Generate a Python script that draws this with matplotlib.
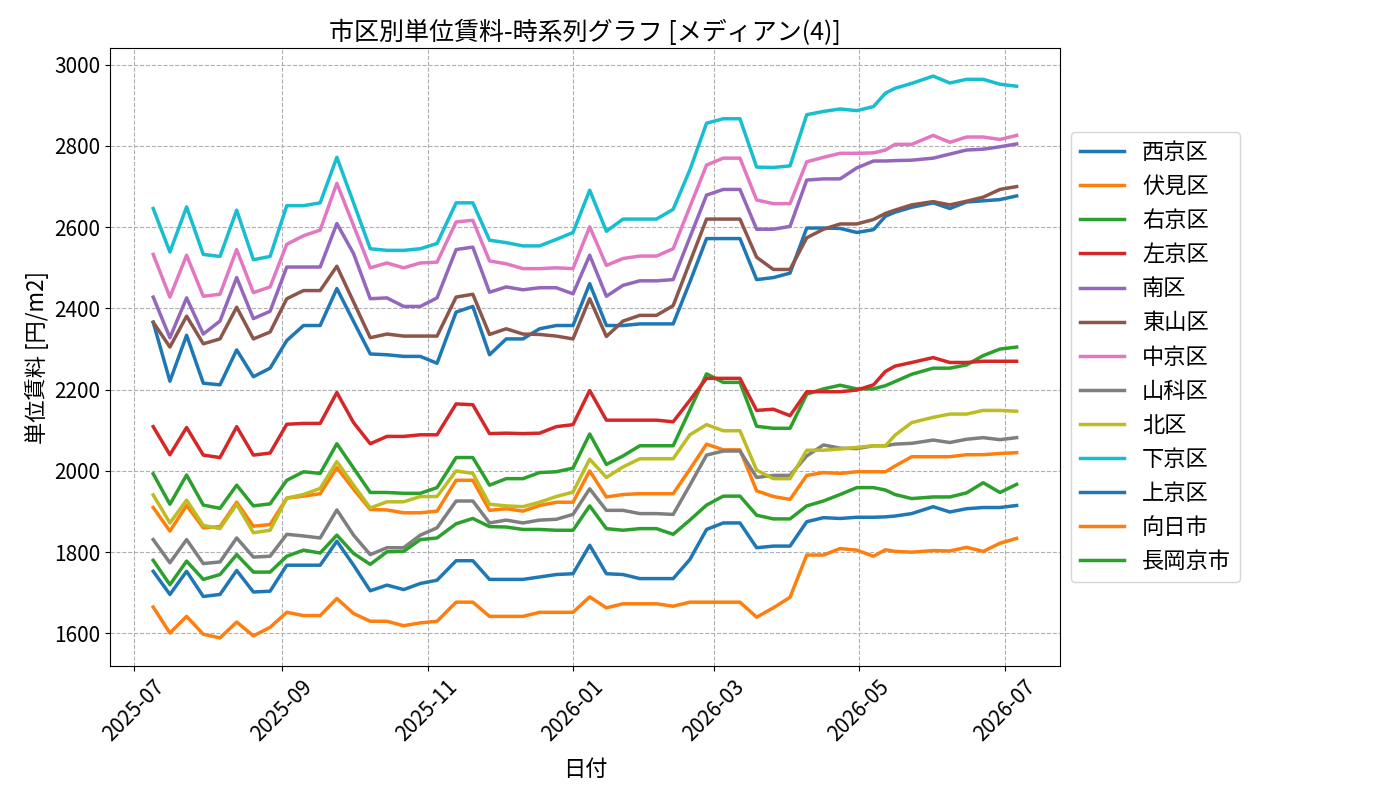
import matplotlib
matplotlib.use("Agg")
import matplotlib.pyplot as plt
import matplotlib.dates as mdates
import pandas as pd

plt.rcParams['font.family'] = ['Noto Sans CJK JP', 'DejaVu Sans']

dates = pd.to_datetime([
    "2025-07-09", "2025-07-16", "2025-07-23", "2025-07-30", "2025-08-06", "2025-08-13",
    "2025-08-20", "2025-08-27", "2025-09-03", "2025-09-10", "2025-09-17", "2025-09-24",
    "2025-10-01", "2025-10-08", "2025-10-15", "2025-10-22", "2025-10-29", "2025-11-05",
    "2025-11-13", "2025-11-20", "2025-11-27", "2025-12-04", "2025-12-11", "2025-12-18",
    "2025-12-25", "2026-01-01", "2026-01-08", "2026-01-15", "2026-01-22", "2026-01-29",
    "2026-02-05", "2026-02-12", "2026-02-19", "2026-02-26", "2026-03-05", "2026-03-12",
    "2026-03-19", "2026-03-26", "2026-04-02", "2026-04-09", "2026-04-16", "2026-04-23",
    "2026-04-30", "2026-05-07", "2026-05-12", "2026-05-16", "2026-05-23", "2026-06-01",
    "2026-06-08", "2026-06-15", "2026-06-22", "2026-06-29", "2026-07-06",
])

nishikyo = [2366, 2221, 2334, 2216, 2212, 2298, 2232, 2253, 2321, 2358, 2358, 2449, 2368, 2288, 2286, 2282, 2282, 2265,
            2391, 2405, 2286, 2325, 2325, 2350, 2358, 2358, 2461, 2358, 2358, 2362, 2362, 2362, 2465, 2572, 2572, 2572,
            2471, 2476, 2487, 2598, 2598, 2597, 2587, 2594, 2627, 2637, 2649, 2660, 2646, 2662, 2665, 2668, 2677]
fushimi = [1910, 1852, 1915, 1860, 1863, 1923, 1864, 1868, 1933, 1938, 1944, 2008, 1955, 1905, 1904, 1897, 1897, 1901,
           1977, 1977, 1903, 1907, 1901, 1915, 1923, 1923, 2000, 1936, 1942, 1944, 1944, 1944, 2004, 2066, 2052, 2052,
           1951, 1937, 1930, 1989, 1996, 1994, 1998, 1998, 1998, 2012, 2035, 2035, 2035, 2040, 2040, 2043, 2045]
ukyo = [1993, 1918, 1990, 1916, 1908, 1965, 1914, 1919, 1977, 1998, 1994, 2067, 2007, 1947, 1947, 1945, 1945, 1959,
        2033, 2033, 1965, 1981, 1981, 1996, 1998, 2007, 2091, 2016, 2037, 2062, 2062, 2062, 2150, 2239, 2218, 2218,
        2110, 2105, 2105, 2189, 2202, 2211, 2202, 2202, 2210, 2220, 2238, 2253, 2253, 2261, 2284, 2300, 2305]
sakyo = [2109, 2040, 2107, 2039, 2033, 2109, 2039, 2044, 2115, 2117, 2117, 2193, 2119, 2067, 2085, 2085, 2089, 2089,
         2165, 2163, 2092, 2093, 2092, 2093, 2109, 2114, 2198, 2125, 2125, 2125, 2125, 2121, 2174, 2228, 2228, 2228,
         2149, 2152, 2136, 2195, 2195, 2195, 2199, 2212, 2245, 2258, 2267, 2279, 2267, 2267, 2270, 2270, 2270]
minami = [2428, 2328, 2426, 2337, 2369, 2476, 2375, 2393, 2502, 2502, 2502, 2609, 2535, 2424, 2426, 2405, 2405, 2426,
          2545, 2551, 2440, 2453, 2446, 2451, 2451, 2436, 2531, 2430, 2457, 2468, 2468, 2471, 2575, 2679, 2693, 2693,
          2595, 2595, 2602, 2716, 2719, 2719, 2746, 2763, 2763, 2764, 2765, 2770, 2780, 2790, 2792, 2798, 2805]
higashiyama = [2366, 2305, 2381, 2313, 2325, 2403, 2325, 2342, 2424, 2444, 2444, 2504, 2416, 2328, 2337, 2332, 2332, 2332,
               2428, 2435, 2336, 2350, 2337, 2336, 2332, 2325, 2424, 2331, 2369, 2383, 2383, 2407, 2514, 2620, 2620, 2620,
               2526, 2496, 2496, 2574, 2595, 2608, 2608, 2619, 2634, 2642, 2655, 2663, 2655, 2664, 2674, 2693, 2700]
nakagyo = [2533, 2428, 2531, 2430, 2435, 2545, 2439, 2453, 2558, 2579, 2593, 2708, 2604, 2500, 2512, 2500, 2512, 2514,
           2613, 2617, 2517, 2510, 2498, 2498, 2500, 2498, 2601, 2506, 2523, 2529, 2529, 2547, 2650, 2753, 2770, 2770,
           2667, 2658, 2658, 2761, 2772, 2782, 2782, 2783, 2790, 2804, 2804, 2826, 2809, 2822, 2822, 2816, 2826]
yamashina = [1831, 1774, 1831, 1772, 1776, 1835, 1788, 1790, 1844, 1840, 1835, 1904, 1842, 1794, 1811, 1811, 1842, 1860,
             1926, 1926, 1872, 1879, 1872, 1879, 1881, 1893, 1956, 1903, 1903, 1895, 1895, 1893, 1965, 2039, 2049, 2049,
             1984, 1989, 1989, 2037, 2064, 2056, 2055, 2062, 2062, 2066, 2068, 2076, 2070, 2078, 2082, 2077, 2082]
kita = [1941, 1872, 1928, 1866, 1858, 1918, 1848, 1854, 1933, 1942, 1957, 2023, 1965, 1909, 1924, 1924, 1937, 1937,
        2000, 1994, 1918, 1914, 1912, 1923, 1937, 1948, 2029, 1984, 2010, 2030, 2030, 2030, 2089, 2114, 2099, 2099,
        2002, 1981, 1981, 2051, 2051, 2054, 2058, 2062, 2062, 2088, 2119, 2132, 2140, 2140, 2149, 2149, 2147]
shimogyo = [2646, 2539, 2650, 2533, 2528, 2642, 2520, 2528, 2653, 2653, 2660, 2772, 2660, 2547, 2543, 2543, 2547, 2560,
            2660, 2660, 2568, 2562, 2554, 2554, 2570, 2587, 2691, 2590, 2620, 2620, 2620, 2644, 2741, 2856, 2867, 2867,
            2748, 2747, 2751, 2877, 2885, 2891, 2887, 2897, 2930, 2942, 2954, 2972, 2955, 2964, 2964, 2952, 2947]
kamigyo = [1753, 1696, 1753, 1691, 1696, 1755, 1702, 1704, 1768, 1768, 1768, 1827, 1768, 1705, 1719, 1708, 1723, 1731,
           1779, 1779, 1733, 1733, 1733, 1739, 1745, 1747, 1817, 1747, 1745, 1735, 1735, 1735, 1782, 1856, 1872, 1872,
           1811, 1815, 1815, 1875, 1885, 1883, 1886, 1886, 1887, 1889, 1895, 1912, 1899, 1907, 1910, 1910, 1915]
muko = [1665, 1601, 1642, 1598, 1589, 1628, 1594, 1615, 1652, 1644, 1644, 1686, 1649, 1630, 1630, 1619, 1626, 1630,
        1677, 1677, 1642, 1642, 1642, 1652, 1652, 1652, 1690, 1663, 1673, 1673, 1673, 1667, 1677, 1677, 1677, 1677,
        1640, 1663, 1689, 1793, 1793, 1809, 1805, 1790, 1806, 1802, 1800, 1804, 1803, 1812, 1802, 1822, 1834]
nagaokakyo = [1780, 1720, 1778, 1733, 1745, 1794, 1751, 1751, 1790, 1805, 1798, 1842, 1797, 1770, 1801, 1802, 1831, 1835,
              1870, 1883, 1863, 1862, 1856, 1856, 1854, 1854, 1914, 1858, 1854, 1858, 1858, 1844, 1879, 1916, 1938, 1938,
              1891, 1882, 1882, 1914, 1926, 1942, 1959, 1959, 1953, 1942, 1932, 1936, 1936, 1946, 1971, 1947, 1967]

names = ["西京区", "伏見区", "右京区", "左京区", "南区", "東山区", "中京区", "山科区", "北区", "下京区",
         "上京区", "向日市", "長岡京市"]
series = [nishikyo, fushimi, ukyo, sakyo, minami, higashiyama, nakagyo, yamashina, kita, shimogyo,
          kamigyo, muko, nagaokakyo]

fig, ax = plt.subplots(figsize=(14, 8), dpi=100)
fig.subplots_adjust(left=0.0786, right=0.757, top=0.94, bottom=0.1675)

colors = plt.rcParams['axes.prop_cycle'].by_key()['color']
for i, (name, vals) in enumerate(zip(names, series)):
    ax.plot(dates, vals, label=name, linewidth=2.5, color=colors[i % len(colors)])

ax.set_title("市区別単位賃料-時系列グラフ [メディアン(4)]", fontsize=18)
ax.set_xlabel("日付", fontsize=16, labelpad=9)
ax.set_ylabel("単位賃料 [円/m2]", fontsize=16)
ax.tick_params(axis='both', labelsize=15)
ax.xaxis.set_major_locator(mdates.MonthLocator(bymonth=[1, 3, 5, 7, 9, 11]))
ax.xaxis.set_major_formatter(mdates.DateFormatter('%Y-%m'))
plt.setp(ax.get_xticklabels(), rotation=45)
ax.grid(True, linestyle='--', color='#b0b0b0', linewidth=0.8)
ax.legend(loc='center left', bbox_to_anchor=(1.0, 0.5), fontsize=16)

fig.savefig("out.png", dpi=100)
